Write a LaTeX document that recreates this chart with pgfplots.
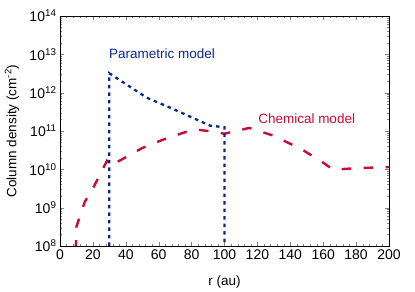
\documentclass[border=0pt]{standalone}
\usepackage{pgfplots}
\pgfplotsset{compat=1.18}
\usepackage{fontspec}
\setmainfont{Liberation Sans}
\definecolor{chemred}{RGB}{200,12,52}
\definecolor{parblue}{RGB}{10,40,140}
\begin{document}
\begin{tikzpicture}
\begin{axis}[
  scale only axis,
  width=329pt, height=230pt,
  xmin=0, xmax=200, ymin=1e8, ymax=1e14,
  ymode=log,
  xtick={0,20,...,200},
  minor x tick num=4,
  ytick={1e8,1e9,1e10,1e11,1e12,1e13,1e14},
  yticklabels={10\textsuperscript{8},10\textsuperscript{9},10\textsuperscript{10},10\textsuperscript{11},10\textsuperscript{12},10\textsuperscript{13},10\textsuperscript{14}},
  /pgf/number format/assume math mode=true,
  tick label style={font=\fontsize{14}{16}\selectfont},
  label style={font=\fontsize{13.5}{16}\selectfont},
  tick align=inside,
  major tick length=4pt,
  minor tick length=2pt,
  axis line style={line width=0.9pt},
  xlabel={r (au)},
  ylabel={Column density (cm\textsuperscript{-2})},
  xlabel style={at={(axis description cs:0.5,-0.157)},anchor=center},
  ylabel style={at={(axis description cs:-0.146,0.5)},anchor=center},
  clip=true,
]
\addplot[color=chemred, line width=2.4pt, dash pattern=on 9.5pt off 12.5pt]
 coordinates {
 (9.6,8e7) (10,3.2e8) (15,1.4e9) (20.8,3.7e9) (28.5,1.65e10) (30.5,1.25e10)
 (37.5,1.8e10) (50,3.6e10) (62,5.8e10) (75,9e10) (82,1.1e11) (90,1.0e11)
 (100,8.5e10) (115,1.2e11) (130,7.5e10) (147,3.3e10) (159,1.6e10) (166,9.8e9)
 (180,1.07e10) (200,1.15e10)
 };
\addplot[color=parblue, line width=2.3pt, dash pattern=on 3.5pt off 4pt]
 coordinates {
 (30,1e8) (30,3.2e12) (52.7,7.4e11) (67.9,3.9e11) (91.2,1.38e11) (100,1.25e11) (100,1e8)
 };
\node[anchor=west, text=parblue, font=\fontsize{13.5}{16}\selectfont, inner sep=0pt] at (axis cs:29.8,1.07e13) {Parametric model};
\node[anchor=west, text=chemred, font=\fontsize{13.5}{16}\selectfont, inner sep=0pt] at (axis cs:120.4,2.15e11) {Chemical model};
\end{axis}
\path ([xshift=-60pt,yshift=-45pt]current axis.south west) rectangle ([xshift=26pt,yshift=16pt]current axis.north east);
\end{tikzpicture}
\end{document}
